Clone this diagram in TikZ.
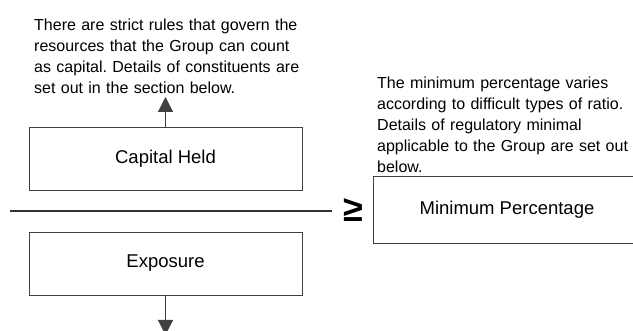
\documentclass[tikz,border=0pt]{standalone}
\usepackage{fontspec}
\setmainfont{Liberation Sans}
\usetikzlibrary{arrows.meta}
\frenchspacing

\begin{document}
\begin{tikzpicture}[x=1pt,y=-1pt,
		box/.style={draw=black!75, line width=0.9pt, minimum width=273pt, minimum height=63pt, font=\fontsize{18.5}{22}\selectfont},
		note/.style={inner sep=0pt, anchor=north west, align=left, text width=300pt, font=\fontsize{16}{21}\selectfont},
		flow/.style={draw=black!75, line width=1.2pt, -{Triangle[width=15pt,length=15pt]}}
			]
	\useasboundingbox (0,0) rectangle (633,331);

	\node[note] (capnote) at (34,18.3) {There are strict rules that govern the\\resources that the Group can count\\as capital. Details of constituents are\\set out in the section below.};
	\node[note] (minnote) at (377,76.3) {The minimum percentage varies\\according to difficult types of ratio.\\Details of regulatory minimal\\applicable to the Group are set out\\below.};

	\node[box] (capital) at (165.5,158.5) {Capital Held};
	\node[box] (exposure) at (165.5,263.5) {Exposure};
	\node[box, minimum width=268pt, minimum height=67pt] (minpct) at (507,209.5) {Minimum Percentage};

	\coordinate (linel) at (10,211);
	\coordinate (liner) at (332,211);
	\draw[black!80, line width=2.7pt] (linel) -- (liner);
	\node[font=\fontsize{36}{36}\selectfont\bfseries, inner sep=0pt] (geq) at (353,210) {≥};

	\coordinate (capend) at (165.5,97);
	\coordinate (expend) at (165.5,335);
	\draw[flow] (capital) -- (capend);
	\draw[flow] (exposure) -- (expend);
\end{tikzpicture}
\end{document}
